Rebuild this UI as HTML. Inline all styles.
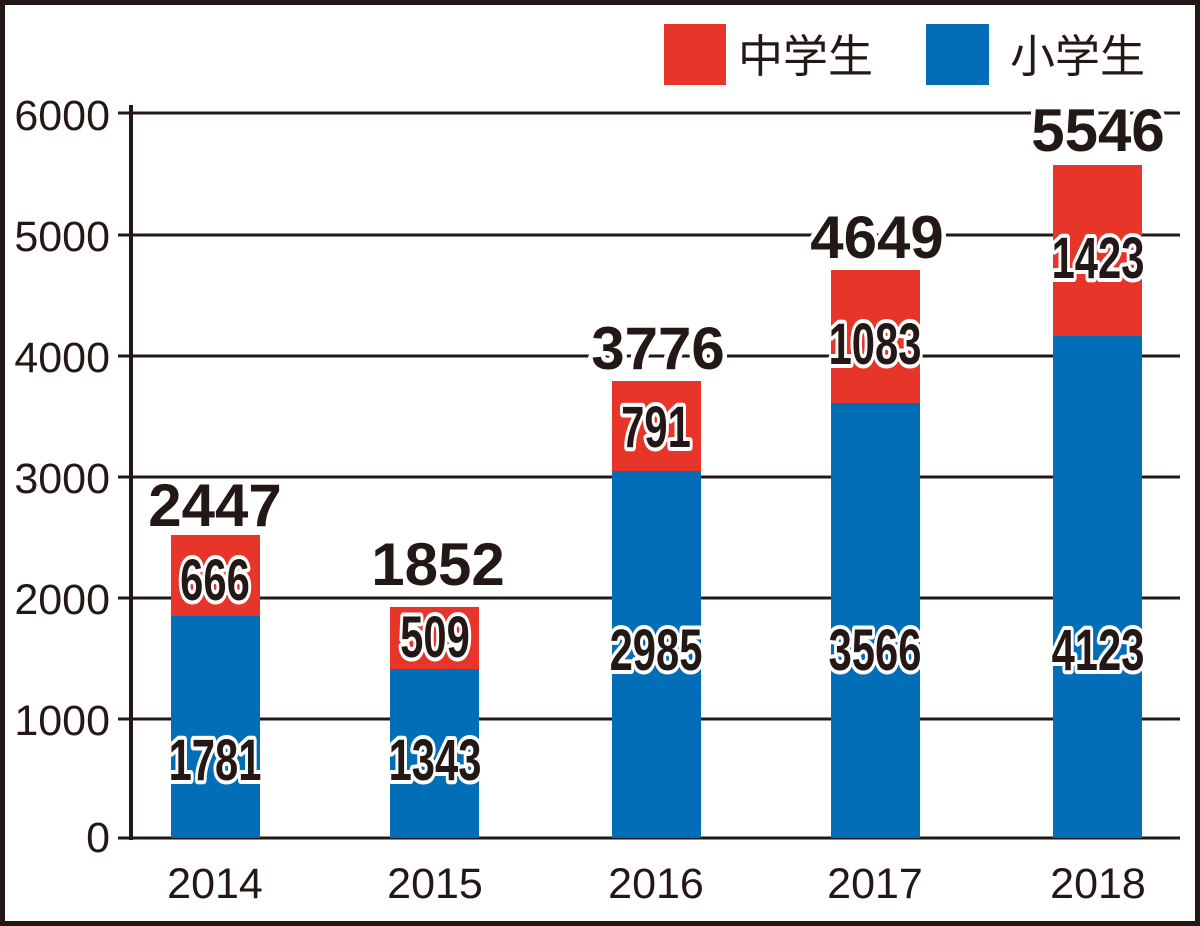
<!DOCTYPE html>
<html><head><meta charset="utf-8"><style>
html,body{margin:0;padding:0;background:#fff}
svg{display:block}
.t{font-family:"Liberation Sans",sans-serif;font-size:43px;fill:#231815}
.lg{font-family:"Liberation Sans","Noto Sans CJK JP",sans-serif;font-size:45px;fill:#231815}
.v{font-family:"Liberation Sans Narrow","Liberation Sans",sans-serif;font-weight:bold;font-size:58px;fill:#231815;stroke:#fff;stroke-width:8px;paint-order:stroke;stroke-linejoin:round}
.tot{font-family:"Liberation Sans",sans-serif;font-weight:bold;font-size:60px;fill:#231815;stroke:#fff;stroke-width:9px;paint-order:stroke;stroke-linejoin:round}
</style></head><body>
<svg width="1200" height="926" viewBox="0 0 1200 926" xmlns="http://www.w3.org/2000/svg">
<rect x="2.5" y="2.5" width="1195" height="921" fill="#fff" stroke="#231815" stroke-width="5"/>
<rect x="664" y="24" width="62" height="61" fill="#e8352a"/>
<text class="lg" x="738" y="72">中学生</text>
<rect x="926" y="24" width="63" height="61" fill="#036eb8"/>
<text class="lg" x="1010" y="72">小学生</text>
<g stroke="#231815" stroke-width="3">
<line x1="118" y1="113" x2="1180" y2="113"/>
<line x1="118" y1="235" x2="1180" y2="235"/>
<line x1="118" y1="356" x2="1180" y2="356"/>
<line x1="118" y1="477" x2="1180" y2="477"/>
<line x1="118" y1="598" x2="1180" y2="598"/>
<line x1="118" y1="719" x2="1180" y2="719"/>
<line x1="118" y1="838" x2="1180" y2="838"/>
</g>
<g class="t" text-anchor="end">
<text x="110" y="130">6000</text><text x="110" y="251">5000</text><text x="110" y="372">4000</text>
<text x="110" y="493">3000</text><text x="110" y="614">2000</text><text x="110" y="735">1000</text><text x="110" y="852">0</text>
</g>
<g>
<rect x="171" y="535" width="89" height="81" fill="#e8352a"/><rect x="171" y="616" width="89" height="222" fill="#036eb8"/>
<rect x="390" y="607" width="89" height="62" fill="#e8352a"/><rect x="390" y="669" width="89" height="169" fill="#036eb8"/>
<rect x="612" y="381" width="89" height="90" fill="#e8352a"/><rect x="612" y="471" width="89" height="367" fill="#036eb8"/>
<rect x="831" y="270" width="89" height="133" fill="#e8352a"/><rect x="831" y="403" width="89" height="435" fill="#036eb8"/>
<rect x="1053" y="165" width="89" height="171" fill="#e8352a"/><rect x="1053" y="336" width="89" height="502" fill="#036eb8"/>
</g>
<line x1="131" y1="105" x2="131" y2="840" stroke="#231815" stroke-width="4"/>
<g class="t" text-anchor="middle">
<text x="215" y="898">2014</text><text x="435" y="898">2015</text><text x="656" y="898">2016</text><text x="875" y="898">2017</text><text x="1098" y="898">2018</text>
</g>
<g class="v" text-anchor="middle">
<text transform="translate(215,600) scale(0.72,1)">666</text>
<text transform="translate(215,780) scale(0.72,1)">1781</text>
<text transform="translate(435,657) scale(0.72,1)">509</text>
<text transform="translate(435,780) scale(0.72,1)">1343</text>
<text transform="translate(656,447) scale(0.72,1)">791</text>
<text transform="translate(656,670) scale(0.72,1)">2985</text>
<text transform="translate(875,364) scale(0.72,1)">1083</text>
<text transform="translate(875,670) scale(0.72,1)">3566</text>
<text transform="translate(1098,278) scale(0.72,1)">1423</text>
<text transform="translate(1098,670) scale(0.72,1)">4123</text>
</g>
<g class="tot" text-anchor="middle">
<text x="215" y="526">2447</text><text x="438" y="585">1852</text><text x="658" y="369">3776</text>
<text x="877" y="258">4649</text><text x="1098" y="151">5546</text>
</g>
</svg>
</body></html>
